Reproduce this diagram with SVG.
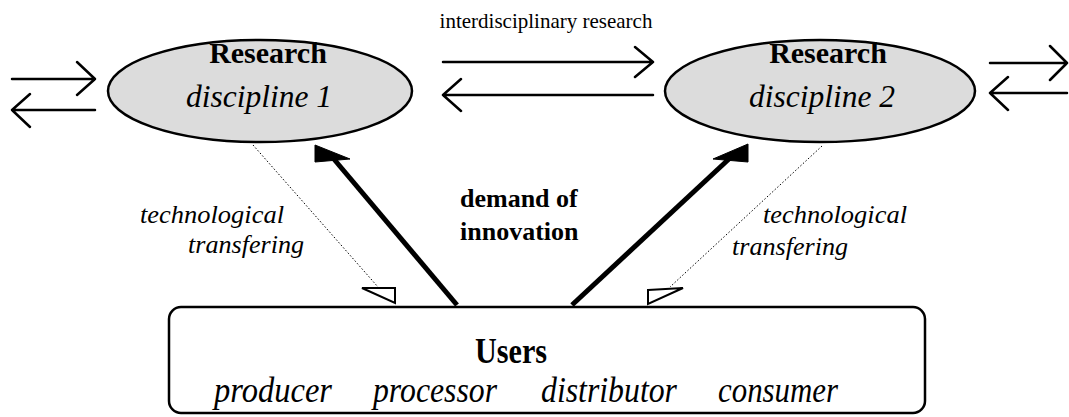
<svg xmlns="http://www.w3.org/2000/svg" width="1069" height="417" viewBox="0 0 1069 417">
<style>
.bg{fill:#fff}
.ell{fill:#dcdcdc;stroke:#000;stroke-width:2.5}
.box{fill:#fff;stroke:#000;stroke-width:2.5}
.ln{fill:none;stroke:#000;stroke-width:2.5;stroke-linecap:round;stroke-linejoin:round}
.thick{fill:none;stroke:#000;stroke-width:5}
.dot{fill:none;stroke:#000;stroke-width:1;stroke-dasharray:1.5 2}
.tri{fill:#fff;stroke:#000;stroke-width:2}
.head{fill:#000;stroke:#000;stroke-width:1}
text{font-family:"Liberation Serif","DejaVu Serif",serif;fill:#000}
.b{font-weight:bold}
.i{font-style:italic}
.m{text-anchor:middle}
</style>
<rect class="bg" x="0" y="0" width="1069" height="417"/>
<g id="connectors">
  <path class="ln" d="M12,79 H95 M77,62 L95,79 L77,95"/>
  <path class="ln" d="M95,110 H12 M30,94 L12,110 L30,127"/>
  <path class="ln" d="M443,62 H653 M635,47 L653,62 L635,77"/>
  <path class="ln" d="M653,95 H443 M461,79 L443,95 L461,111"/>
  <path class="ln" d="M990,63 H1067 M1050,46 L1067,63 L1050,80"/>
  <path class="ln" d="M1067,93 H990 M1008,77 L990,93 L1008,110"/>
  <line class="thick" x1="457" y1="305" x2="333" y2="158"/>
  <polygon class="head" points="315,145 350,159 315,162"/>
  <line class="thick" x1="572" y1="305" x2="730" y2="158"/>
  <polygon class="head" points="748,144 713,159 748,162"/>
  <line class="dot" x1="253" y1="145" x2="378" y2="287"/>
  <polygon class="tri" points="362,288 395,288 395,303"/>
  <line class="dot" x1="822" y1="146" x2="670" y2="287"/>
  <polygon class="tri" points="648,290 683,288 648,304"/>
</g>
<g id="label-interdisciplinary">
  <text class="m" x="546" y="28" font-size="21">interdisciplinary research</text>
</g>
<g id="node-discipline1">
  <ellipse class="ell" cx="260" cy="91" rx="152" ry="51"/>
  <text class="b m" x="268" y="63" font-size="30">Research</text>
  <text class="i" x="186" y="107" font-size="31" textLength="146" lengthAdjust="spacingAndGlyphs">discipline 1</text>
</g>
<g id="node-discipline2">
  <ellipse class="ell" cx="820" cy="91" rx="155" ry="51"/>
  <text class="b m" x="828" y="63" font-size="30">Research</text>
  <text class="i" x="749" y="107" font-size="31" textLength="146" lengthAdjust="spacingAndGlyphs">discipline 2</text>
</g>
<g id="label-tech-left">
  <text class="i" x="140" y="223" font-size="26" textLength="144" lengthAdjust="spacingAndGlyphs">technological</text>
  <text class="i" x="188" y="253" font-size="26" textLength="116" lengthAdjust="spacingAndGlyphs">transfering</text>
</g>
<g id="label-tech-right">
  <text class="i" x="763" y="223" font-size="26" textLength="144" lengthAdjust="spacingAndGlyphs">technological</text>
  <text class="i" x="732" y="255" font-size="26" textLength="116" lengthAdjust="spacingAndGlyphs">transfering</text>
</g>
<g id="label-demand">
  <text class="b" x="460" y="207" font-size="26">demand of</text>
  <text class="b" x="460" y="240" font-size="26">innovation</text>
</g>
<g id="node-users">
  <rect class="box" x="169" y="307" width="756" height="106" rx="12"/>
  <text class="b" x="475" y="363" font-size="35" textLength="72" lengthAdjust="spacingAndGlyphs">Users</text>
  <text class="i" x="214" y="402" font-size="35" textLength="118" lengthAdjust="spacingAndGlyphs">producer</text>
  <text class="i" x="373" y="402" font-size="35" textLength="124" lengthAdjust="spacingAndGlyphs">processor</text>
  <text class="i" x="541" y="402" font-size="35" textLength="136" lengthAdjust="spacingAndGlyphs">distributor</text>
  <text class="i" x="718" y="402" font-size="35" textLength="120" lengthAdjust="spacingAndGlyphs">consumer</text>
</g>
</svg>
